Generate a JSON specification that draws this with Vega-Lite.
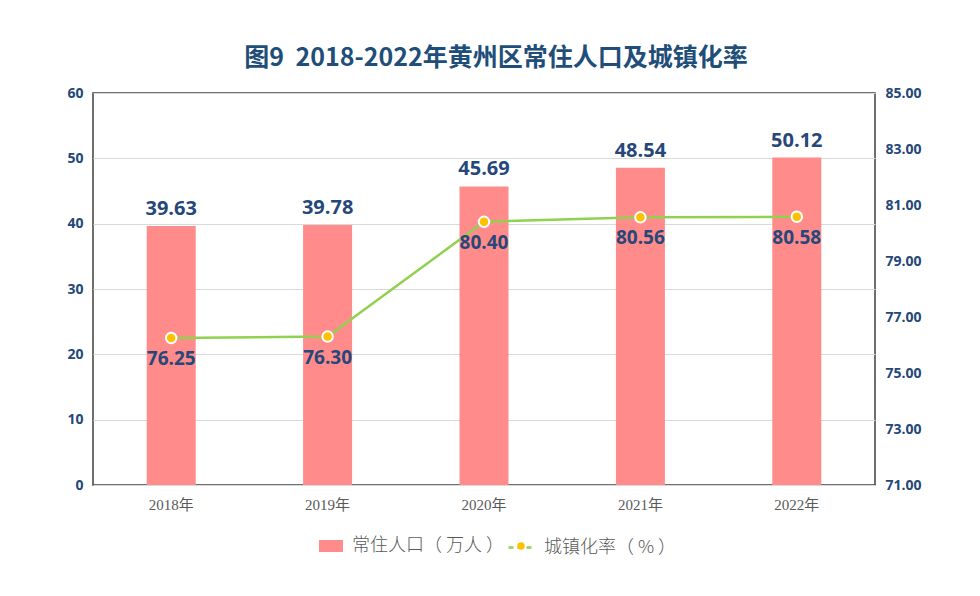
{
  "$schema": "https://vega.github.io/schema/vega-lite/v6.json",
  "width": 782,
  "height": 392,
  "autosize": {"type": "none"},
  "padding": {"left": 93, "top": 93, "right": 105, "bottom": 111},
  "background": "white",
  "title": {
    "text": "图9\u00a0\u00a02018-2022年黄州区常住人口及城镇化率",
    "font": "Noto Sans CJK SC",
    "fontSize": 25,
    "fontWeight": "bold",
    "color": "#1F4E79",
    "anchor": "middle",
    "dx": 12,
    "offset": 15
  },
  "data": {
    "values": [
      {"year": "2018年", "pop": 39.63, "rate": 76.25},
      {"year": "2019年", "pop": 39.78, "rate": 76.30},
      {"year": "2020年", "pop": 45.69, "rate": 80.40},
      {"year": "2021年", "pop": 48.54, "rate": 80.56},
      {"year": "2022年", "pop": 50.12, "rate": 80.58}
    ]
  },
  "encoding": {
    "x": {
      "field": "year",
      "type": "nominal",
      "title": null,
      "scale": {"paddingInner": 0, "paddingOuter": 0},
      "axis": {
        "labelAngle": 0,
        "labelFont": "Liberation Serif, Noto Sans CJK SC",
        "labelFontSize": 15,
        "labelColor": "#595959",
        "labelPadding": 12,
        "ticks": false,
        "domain": false
      }
    }
  },
  "layer": [
    {
      "layer": [
        {
          "mark": {"type": "bar", "width": 49},
          "encoding": {
            "y": {
              "field": "pop",
              "type": "quantitative",
              "title": null,
              "scale": {"domain": [0, 60]},
              "axis": {
                "values": [0, 10, 20, 30, 40, 50, 60],
                "labelFont": "Open Sans",
                "labelFontSize": 14,
                "labelFontWeight": "bold",
                "labelColor": "#254779",
                "labelPadding": 10,
                "ticks": false,
                "domain": false,
                "grid": true,
                "gridColor": "#D9D9D9"
              }
            },
            "fill": {
              "datum": "常住人口（ 万人 ）",
              "type": "nominal",
              "scale": {"range": ["#FF8B8B"]},
              "legend": {
                "title": null,
                "orient": "none",
                "legendX": 225,
                "legendY": 440,
                "symbolType": "M-1,-0.5H1V0.5H-1Z",
                "symbolSize": 576,
                "labelFont": "Noto Sans CJK SC",
                "labelFontSize": 18,
                "labelFontWeight": 300,
                "labelColor": "#595959",
                "labelOffset": 8
              }
            }
          }
        },
        {
          "mark": {
            "type": "text",
            "baseline": "bottom",
            "dy": -7,
            "font": "Open Sans",
            "fontSize": 20,
            "fontWeight": "bold",
            "color": "#254779"
          },
          "encoding": {
            "y": {"field": "pop", "type": "quantitative"},
            "text": {"field": "pop", "type": "quantitative", "format": ".2f"}
          }
        }
      ]
    },
    {
      "layer": [
        {
          "mark": {"type": "line", "strokeWidth": 2.5},
          "encoding": {
            "y": {
              "field": "rate",
              "type": "quantitative",
              "title": null,
              "scale": {"domain": [71, 85]},
              "axis": {
                "orient": "right",
                "values": [71, 73, 75, 77, 79, 81, 83, 85],
                "format": ".2f",
                "labelFont": "Open Sans",
                "labelFontSize": 14,
                "labelFontWeight": "bold",
                "labelColor": "#254779",
                "labelPadding": 10,
                "ticks": false,
                "domain": false,
                "grid": false
              }
            },
            "stroke": {
              "datum": "城镇化率（ % ）",
              "type": "nominal",
              "scale": {"range": ["#92D050"]},
              "legend": {
                "title": null,
                "orient": "none",
                "legendX": 414,
                "legendY": 440,
                "symbolType": "stroke",
                "symbolDash": [5, 4],
                "symbolStrokeWidth": 2.5,
                "symbolSize": 676,
                "labelFont": "Noto Sans CJK SC",
                "labelFontSize": 18,
                "labelFontWeight": 300,
                "labelColor": "#595959",
                "labelOffset": 8
              }
            }
          }
        },
        {
          "mark": {
            "type": "point",
            "filled": true,
            "size": 110,
            "fill": "#FFC000",
            "stroke": "white",
            "strokeWidth": 2,
            "opacity": 1
          },
          "encoding": {
            "y": {"field": "rate", "type": "quantitative"},
            "shape": {
              "datum": "dot",
              "type": "nominal",
              "scale": {"range": ["circle"]},
              "legend": {
                "title": null,
                "orient": "none",
                "legendX": 419,
                "legendY": 444,
                "symbolSize": 55,
                "symbolFillColor": "#FFC000",
                "symbolStrokeColor": "#FFC000",
                "symbolStrokeWidth": 0,
                "labelExpr": "''",
                "labelFontSize": 18,
                "labelOffset": 0
              }
            }
          }
        },
        {
          "mark": {
            "type": "text",
            "baseline": "top",
            "dy": 12,
            "font": "Open Sans",
            "fontSize": 19,
            "fontWeight": "bold",
            "color": "#254779"
          },
          "encoding": {
            "y": {"field": "rate", "type": "quantitative"},
            "text": {"field": "rate", "type": "quantitative", "format": ".2f"}
          }
        }
      ]
    }
  ],
  "resolve": {"scale": {"y": "independent"}},
  "config": {
    "view": {"stroke": "#404040", "strokeWidth": 1.5}
  }
}
